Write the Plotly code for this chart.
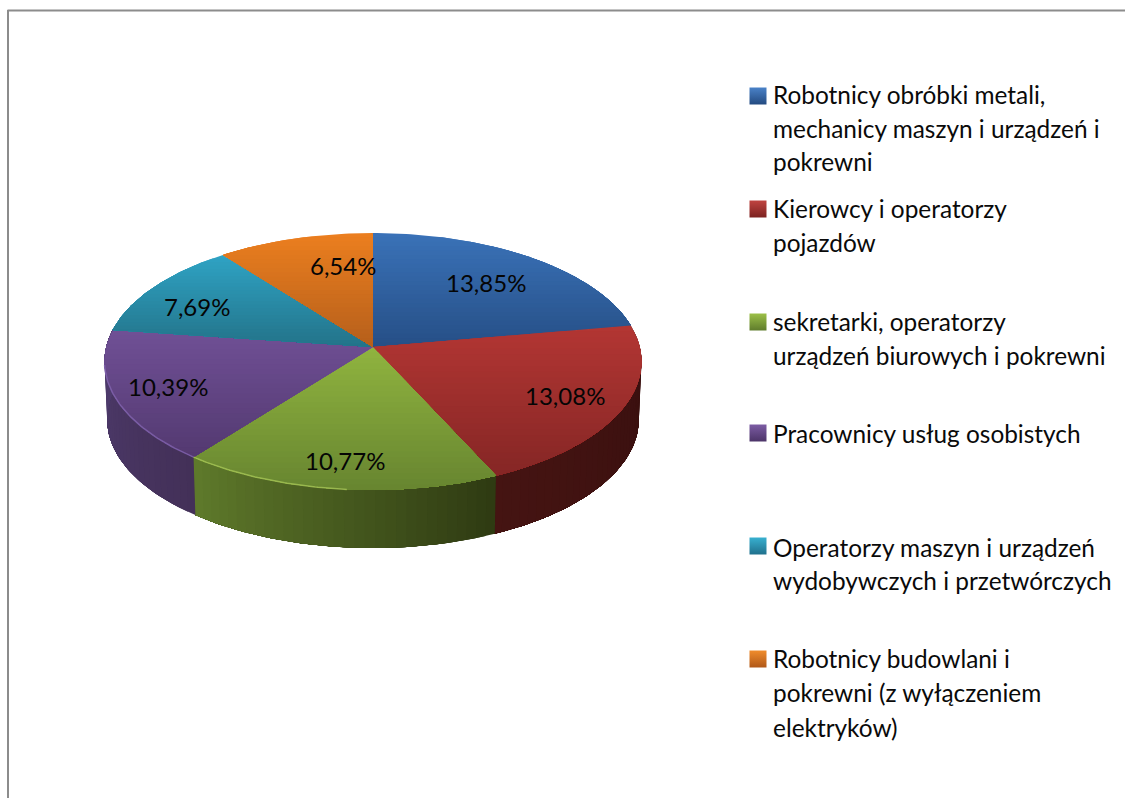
import numpy as np
import plotly.graph_objects as go

# ---------- data ----------
categories = [
    "Robotnicy obróbki metali, mechanicy maszyn i urządzeń i pokrewni",
    "Kierowcy i operatorzy pojazdów",
    "sekretarki, operatorzy urządzeń biurowych i pokrewni",
    "Pracownicy usług osobistych",
    "Operatorzy maszyn i urządzeń wydobywczych i przetwórczych",
    "Robotnicy budowlani i pokrewni (z wyłączeniem elektryków)",
]
values = [13.85, 13.08, 10.77, 10.39, 7.69, 6.54]
legend_lines = [
    ["Robotnicy obróbki metali,", "mechanicy maszyn i urządzeń i", "pokrewni"],
    ["Kierowcy i operatorzy", "pojazdów"],
    ["sekretarki, operatorzy", "urządzeń biurowych i pokrewni"],
    ["Pracownicy usług osobistych"],
    ["Operatorzy maszyn i urządzeń", "wydobywczych i przetwórczych"],
    ["Robotnicy budowlani i", "pokrewni (z wyłączeniem", "elektryków)"],
]

# ---------- style ----------
top_light = ["#3a72b8", "#b33633", "#90b43f", "#705096", "#2fa3c4", "#ec7f1f"]
top_dark = ["#264f86", "#852625", "#678530", "#533970", "#237389", "#b55f1b"]
wall_left = [None, "#451412", "#5f7a2b", "#4f3c6e", None, None]
wall_right = [None, "#360e0e", "#2e3a12", "#433058", None, None]
key_top = ["#4a82c8", "#c04440", "#9cc048", "#7c5ca4", "#38b0d0", "#f08c2c"]
key_bottom = ["#234a80", "#7c2220", "#5f7c2c", "#4c3468", "#20708c", "#b05818"]
label_r = [0.70, 0.78, 0.82, 0.80, 0.76, 0.70]
label_shift = [0, 0, 0, 0, -4, 9]
legend_line_y = [[94, 128, 161], [208, 242], [321, 355], [433], [547, 580], [658, 692, 727]]
key_y = [96, 209, 322, 433, 546, 659]

CX, CY, R_X, R_Y, K = 373.0, 347.0, 266.8, 126.9, 0.1128
DEPTH = 58.0
FONT = "Lato, Carlito, Calibri, sans-serif"
WALL_SPAN = (80, 280)


def project(theta_deg, r=1.0):
    t = np.radians(theta_deg)
    u, v = r * np.sin(t), r * np.cos(t)
    d = 1 + K * v
    return CX + R_X * u / d, CY - R_Y * v / d


def hex2rgb(h):
    return np.array([int(h[i:i + 2], 16) for i in (1, 3, 5)], float)


def mix(a, b, f):
    c = hex2rgb(a) * (1 - f) + hex2rgb(b) * f
    return "rgb(%d,%d,%d)" % tuple(c.round())


def clip_below(pts, level):
    out = []
    for i in range(len(pts)):
        p, q = pts[i], pts[(i + 1) % len(pts)]
        if p[1] >= level:
            out.append(p)
        if (p[1] >= level) != (q[1] >= level):
            s = (level - p[1]) / (q[1] - p[1])
            out.append((p[0] + s * (q[0] - p[0]), level))
    return out


fig = go.Figure()


def poly(xs, ys, color):
    fig.add_trace(go.Scatter(x=xs, y=ys, mode="lines", fill="toself", fillcolor=color,
                             line=dict(color=color, width=0), hoverinfo="skip", showlegend=False))


total = sum(values)
edges = np.cumsum([0] + values) / total * 360

# side wall: each strip runs to the slice's far end, the next one paints over it
for i in range(len(values)):
    if wall_left[i] is None:
        continue
    a, b = max(edges[i], WALL_SPAN[0]), min(edges[i + 1], WALL_SPAN[1])
    grid = np.arange(a, b, 2.0)
    for t0 in grid:
        f = (b - t0 - 1.0) / (b - a)  # 0 at left end of the slice on screen, 1 at right end
        arc = np.linspace(t0, b, max(2, int((b - t0) * 1.0) + 2))
        ax, ay = project(arc)
        bx = CX + (ax - CX) * 0.99
        by = ay + DEPTH
        xs = list(ax) + list(bx[::-1]) + [ax[0]]
        ys = list(ay) + list(by[::-1]) + [ay[0]]
        poly(xs, ys, mix(wall_left[i], wall_right[i], f))

# top faces with vertical shading, painted top to bottom
N_BANDS = 26
for i in range(len(values)):
    arc = np.arange(edges[i], edges[i + 1], 1.0)
    arc = np.append(arc, edges[i + 1])
    px, py = project(arc)
    pts = [(CX, CY)] + list(zip(px, py))
    ymin, ymax = min(p[1] for p in pts), max(p[1] for p in pts)
    levels = np.linspace(ymin, ymax, N_BANDS + 1)
    for j in range(N_BANDS):
        band = clip_below(pts, levels[j])
        if len(band) < 3:
            continue
        band.append(band[0])
        poly([p[0] for p in band], [p[1] for p in band],
             mix(top_light[i], top_dark[i], (j + 0.5) / N_BANDS))

# light rim on the front edge
for i, col, a, b in [(2, "rgba(170,200,90,0.75)", 185, edges[3]), (3, "rgba(130,100,175,0.8)", edges[3], 262)]:
    rim = np.linspace(a, b, 60)
    rx, ry = project(rim)
    fig.add_trace(go.Scatter(x=rx, y=ry, mode="lines", line=dict(color=col, width=1.5),
                             hoverinfo="skip", showlegend=False))

# percentage labels
annotations = []
for i, val in enumerate(values):
    mid = 0.5 * (edges[i] + edges[i + 1]) + label_shift[i]
    x, y = project(mid, label_r[i])
    annotations.append(dict(x=x, y=y, text=f"{val:.2f}".replace(".", ",") + "%", showarrow=False,
                            xanchor="center", yanchor="middle",
                            font=dict(family=FONT, size=24, color="#050505")))

# legend
for i, lines in enumerate(legend_lines):
    fig.add_trace(go.Scatter(
        x=[758], y=[key_y[i]], mode="markers", name=categories[i],
        marker=dict(symbol="square", size=17, color=key_top[i], line=dict(width=0),
                    gradient=dict(type="vertical", color=key_bottom[i])),
        hoverinfo="skip", showlegend=False))
    for line, ly in zip(lines, legend_line_y[i]):
        annotations.append(dict(x=770.5, y=ly, text=line, showarrow=False, xanchor="left", yanchor="middle",
                                font=dict(family=FONT, size=24.4, color="#0a0a0a")))

fig.update_layout(
    width=1125, height=798, margin=dict(l=0, r=0, t=0, b=0),
    paper_bgcolor="white", plot_bgcolor="white", showlegend=False,
    xaxis=dict(range=[0, 1125], visible=False, fixedrange=True),
    yaxis=dict(range=[798, 0], visible=False, fixedrange=True),
    annotations=annotations,
    shapes=[
        dict(type="line", xref="x", yref="y", x0=7.5, x1=1125, y0=10.5, y1=10.5, line=dict(color="#8c8c8c", width=2)),
        dict(type="line", xref="x", yref="y", x0=8, x1=8, y0=10, y1=798, line=dict(color="#8c8c8c", width=2)),
    ],
)
fig.write_html("out.html", config={"displayModeBar": False},
               post_script="document.body.style.margin='0';document.body.style.overflow='hidden';")
